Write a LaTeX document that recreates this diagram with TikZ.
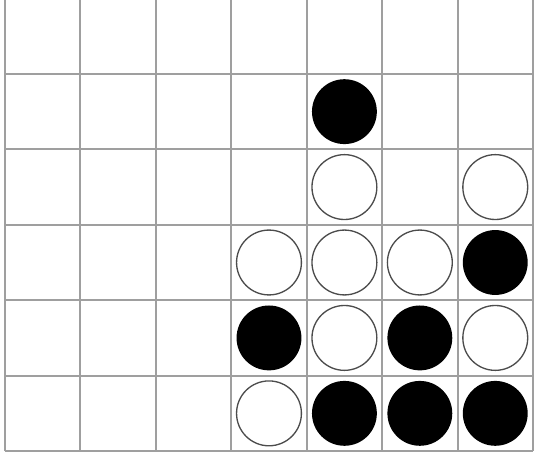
\documentclass[tikz,border=0pt]{standalone}
\usetikzlibrary{positioning}
\begin{document}
\begin{tikzpicture}[
  cell/.style={draw=gray!75, line width=0.75pt},
  disc/.style={circle, inner sep=0pt, minimum size=0.86cm},
  blackdisc/.style={disc, fill=black},
  whitedisc/.style={disc, draw=black!70, fill=white, line width=0.5pt},
]
\useasboundingbox (-0.066,-0.093) rectangle (7.04,5.98);
\clip (-0.066,-0.093) rectangle (7.04,5.98);

% Board
\draw[cell] (0,0) grid (7,6);

% Discs (column/row, counted from bottom left)
\foreach \c/\r in {4/4, 6/2, 3/1, 5/1, 4/0, 5/0, 6/0}
  \node[blackdisc] (b\c\r) at (\c+0.5, \r+0.5) {};
\foreach \c/\r in {4/3, 6/3, 3/2, 4/2, 5/2, 4/1, 6/1, 3/0}
  \node[whitedisc] (w\c\r) at (\c+0.5, \r+0.5) {};

\end{tikzpicture}
\end{document}
